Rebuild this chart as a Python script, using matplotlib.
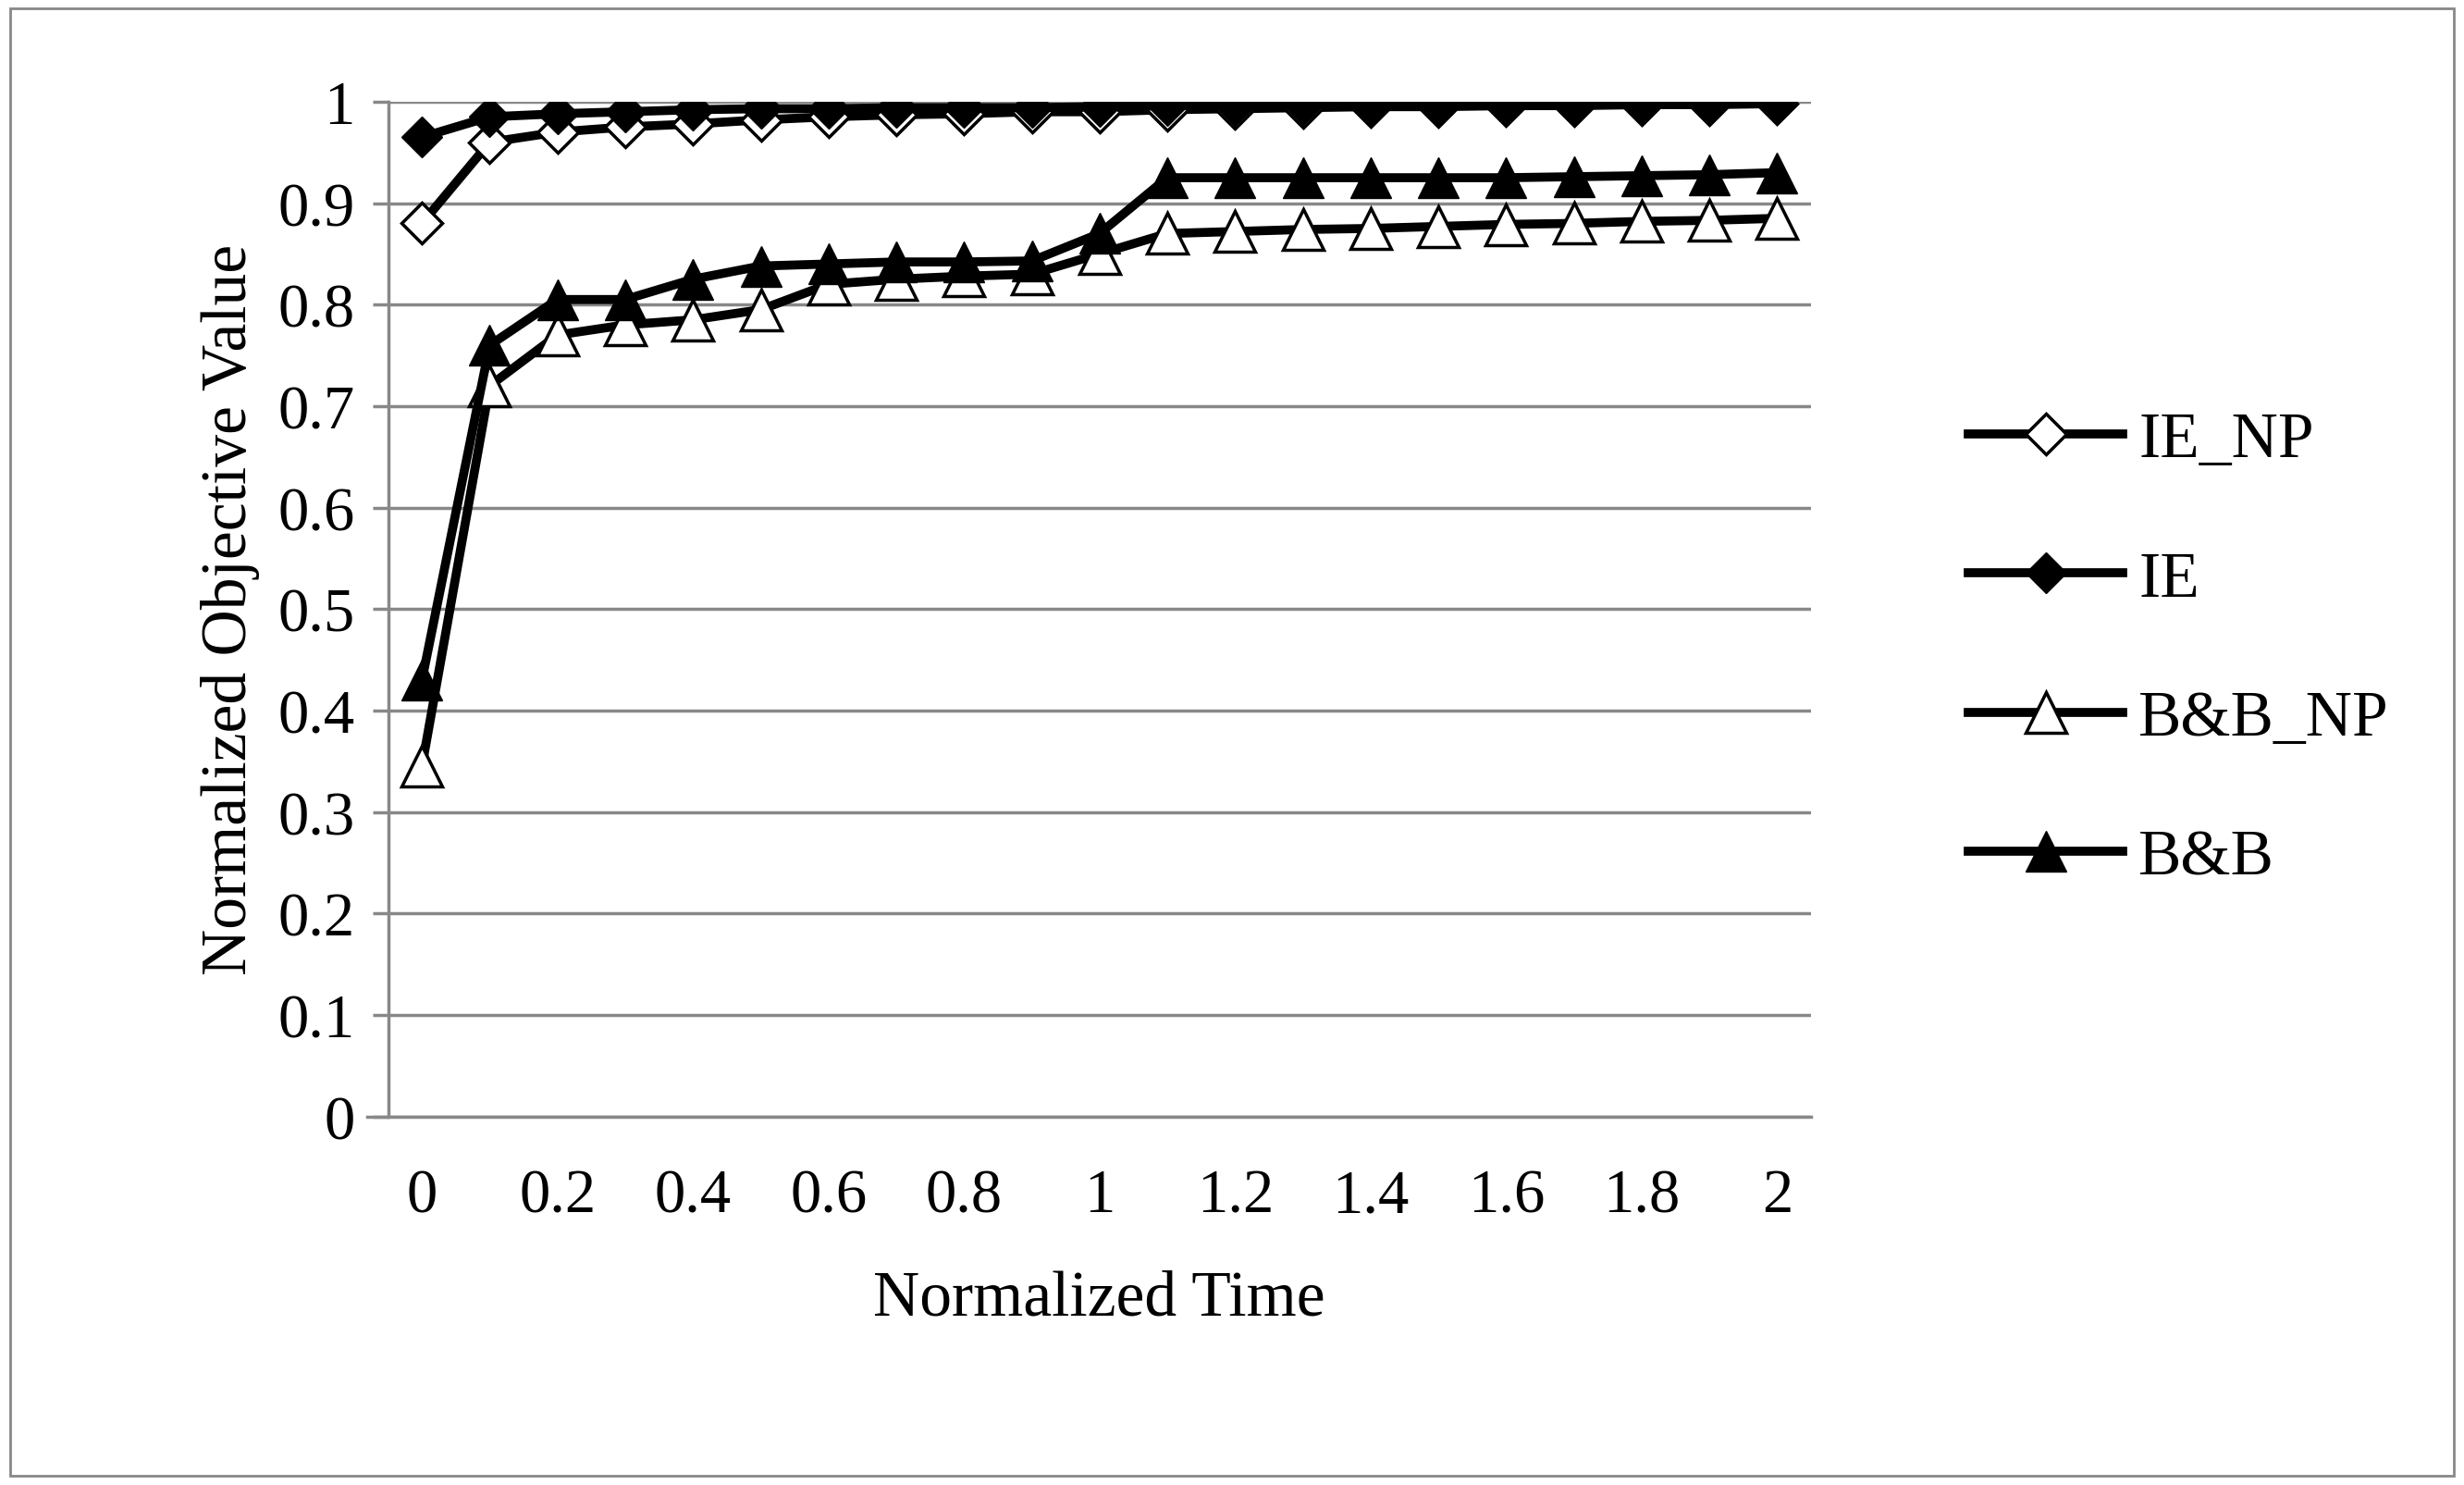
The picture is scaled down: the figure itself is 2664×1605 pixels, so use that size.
import numpy as np
import matplotlib.pyplot as plt
from matplotlib.patches import Rectangle

plt.rcParams['font.family'] = ['Liberation Serif', 'DejaVu Serif']

times = np.round(np.arange(0, 2.01, 0.1), 1)
ie_np = [0.88, 0.96, 0.97, 0.975, 0.978, 0.982, 0.985, 0.987, 0.988, 0.99, 0.99,
         0.992, 0.993, 0.994, 0.995, 0.995, 0.996, 0.996, 0.997, 0.997, 0.998]
ie = [0.965, 0.985, 0.988, 0.99, 0.992, 0.993, 0.993, 0.994, 0.994, 0.994, 0.995,
      0.996, 0.996, 0.997, 0.997, 0.997, 0.998, 0.998, 0.998, 0.999, 1.0]
bb_np = [0.345, 0.72, 0.77, 0.78, 0.785, 0.795, 0.82, 0.825, 0.828, 0.83, 0.85,
         0.87, 0.872, 0.874, 0.875, 0.877, 0.879, 0.88, 0.882, 0.883, 0.885]
bb = [0.43, 0.76, 0.805, 0.805, 0.825, 0.838, 0.84, 0.842, 0.842, 0.843, 0.87,
      0.925, 0.925, 0.925, 0.925, 0.925, 0.925, 0.926, 0.927, 0.928, 0.93]

fig = plt.figure(figsize=(26.64, 16.06), dpi=100)
ax = fig.add_axes([0.1575, 0.248, 0.5775, 0.683])
fig.patches.append(Rectangle((0.004, 0.006), 0.992, 0.988, transform=fig.transFigure,
                             fill=False, edgecolor='#888888', lw=2))

lw = 7
ax.plot(times, ie_np, color='black', lw=lw, marker='D', ms=22, mfc='white', mec='black', mew=2.5, label='IE_NP')
ax.plot(times, ie, color='black', lw=lw, marker='D', ms=22, mfc='black', mec='black', label='IE')
ax.plot(times, bb_np, color='black', lw=lw, marker='^', ms=31, mfc='white', mec='black', mew=2.5, label='B&B_NP')
ax.plot(times, bb, color='black', lw=lw, marker='^', ms=31, mfc='black', mec='black', label='B&B')

ax.set_xlim(-0.05, 2.05)
ax.set_ylim(0, 1)
ax.set_yticks(np.arange(0, 1.01, 0.1))
ax.set_yticklabels(['0', '0.1', '0.2', '0.3', '0.4', '0.5', '0.6', '0.7', '0.8', '0.9', '1'])
ax.set_xticks(np.arange(0, 2.01, 0.2))
ax.set_xticklabels(['0', '0.2', '0.4', '0.6', '0.8', '1', '1.2', '1.4', '1.6', '1.8', '2'])
ax.grid(axis='y', color='#888888', lw=2.5)
ax.set_axisbelow(True)
for s in ['top', 'right']:
    ax.spines[s].set_visible(False)
ax.spines['bottom'].set_visible(False)
ax.spines['left'].set_color('#888888')
ax.spines['left'].set_linewidth(2.5)
ax.tick_params(axis='x', length=0, labelsize=48, pad=40)
ax.tick_params(axis='y', length=12, width=2.5, color='#888888', labelsize=48, pad=14)
ax.axhline(0, color='#888888', lw=2.5, xmin=-0.015, clip_on=False)
ax.set_xlabel('Normalized Time', fontsize=50, labelpad=35)
ax.set_ylabel('Normalized Objective Value', fontsize=50, labelpad=14)

ax.legend(loc='center left', bbox_to_anchor=(1.07, 0.46), frameon=False, fontsize=50,
          handlelength=2.4, labelspacing=1.25, handletextpad=0.25)

fig.savefig('out.png', dpi=100)
